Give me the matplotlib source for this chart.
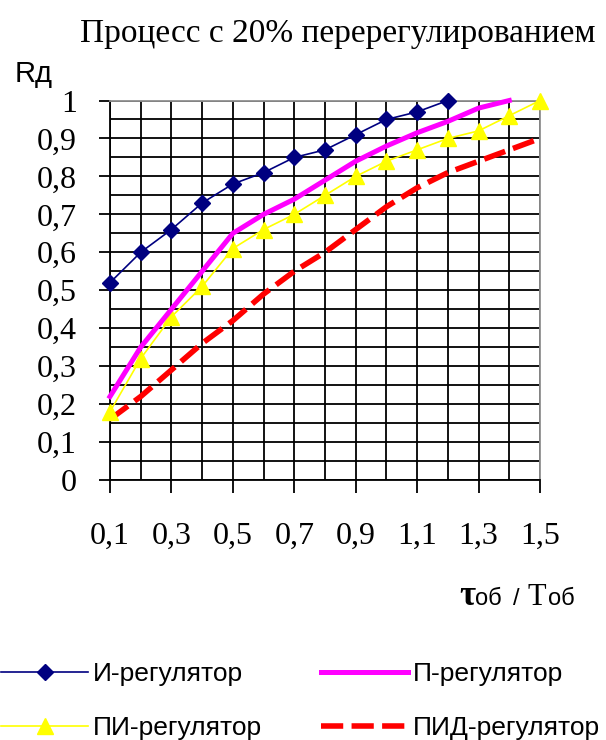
import numpy as np
import matplotlib
matplotlib.use("Agg")
import matplotlib.pyplot as plt
from matplotlib.lines import Line2D
from matplotlib.ticker import MultipleLocator, FixedLocator

plt.rcParams["lines.scale_dashes"] = False

# Relative delay tau/T and the ratio Rd for each controller type
x_i = [0.1, 0.2, 0.3, 0.4, 0.5, 0.6, 0.7, 0.8, 0.9, 1.0, 1.1, 1.2]
r_i = [0.52, 0.60, 0.66, 0.73, 0.78, 0.81, 0.85, 0.87, 0.91, 0.95, 0.97, 1.00]

x_p = [0.1, 0.2, 0.3, 0.4, 0.5, 0.6, 0.7, 0.8, 0.9, 1.0, 1.1, 1.2, 1.3, 1.4]
r_p = [0.22, 0.35, 0.45, 0.55, 0.65, 0.70, 0.74, 0.79, 0.84, 0.88, 0.915, 0.945, 0.98, 1.00]

x_pi = [0.1, 0.2, 0.3, 0.4, 0.5, 0.6, 0.7, 0.8, 0.9, 1.0, 1.1, 1.2, 1.3, 1.4, 1.5]
r_pi = [0.18, 0.32, 0.43, 0.51, 0.61, 0.66, 0.70, 0.75, 0.80, 0.84, 0.87, 0.90, 0.92, 0.96, 1.00]

x_pid = [0.1, 0.2, 0.3, 0.4, 0.5, 0.6, 0.7, 0.8, 0.9, 1.0, 1.1, 1.2, 1.3, 1.4, 1.5]
r_pid = [0.16, 0.22, 0.29, 0.36, 0.42, 0.49, 0.55, 0.60, 0.66, 0.72, 0.77, 0.81, 0.84, 0.87, 0.90]

labels = ["И-регулятор", "П-регулятор", "ПИ-регулятор", "ПИД-регулятор"]
x_ticks = [0.1, 0.3, 0.5, 0.7, 0.9, 1.1, 1.3, 1.5]
y_ticks = [0, 0.1, 0.2, 0.3, 0.4, 0.5, 0.6, 0.7, 0.8, 0.9, 1.0]

def fmt(v):
    s = f"{v:.1f}".replace(".", ",")
    return {"0,0": "0", "1,0": "1"}.get(s, s)

W, H = 606, 740
fig = plt.figure(figsize=(W / 100, H / 100), dpi=100)
ax = fig.add_axes([110 / W, 1 - 480 / H, 430 / W, 379.5 / H])

serif = "Liberation Serif"
sans = "Liberation Sans"

ax.set_xlim(0.1, 1.5)
ax.set_ylim(0, 1)

ax.xaxis.set_major_locator(FixedLocator(x_ticks))
ax.xaxis.set_minor_locator(MultipleLocator(0.1))
ax.yaxis.set_major_locator(FixedLocator(y_ticks))
ax.yaxis.set_minor_locator(MultipleLocator(0.05))
ax.set_xticklabels([fmt(v) for v in x_ticks], family=serif, fontsize=23)
ax.set_yticklabels([fmt(v) for v in y_ticks], family=serif, fontsize=23)
ax.tick_params(axis="x", which="major", length=9, width=1.3, pad=21, direction="out")
ax.tick_params(axis="y", which="major", length=8, width=1.3, pad=16, direction="out")
ax.tick_params(which="minor", length=0)

ax.grid(True, which="both", color="black", linewidth=1.3)
ax.set_axisbelow(True)
for side in ("left", "bottom"):
    ax.spines[side].set_color("black")
    ax.spines[side].set_linewidth(1.3)
for side in ("top", "right"):
    ax.spines[side].set_color("#909090")
    ax.spines[side].set_linewidth(1.3)

ax.plot(x_pid, r_pid, color="#ff0000", linewidth=4.0, dashes=(16, 6),
        solid_capstyle="butt", dash_capstyle="butt", zorder=3, clip_on=False)
ax.plot(x_pi, r_pi, color="#ffff00", linewidth=1.2, marker="^", markersize=11,
        markerfacecolor="#ffff00", markeredgecolor="#ffff00", zorder=4, clip_on=False)
ax.plot(x_p, r_p, color="#ff00ff", linewidth=3.6, zorder=5, clip_on=False)
ax.plot(x_i, r_i, color="#000080", linewidth=1.2, marker="D", markersize=8,
        markerfacecolor="#000080", markeredgecolor="#000080", zorder=6, clip_on=False)

# Title and axis captions
fig.text(338 / W, 1 - 42 / H, "Процесс с 20% перерегулированием", family=serif,
         fontsize=24, ha="center", va="baseline")
fig.text(15 / W, 1 - 82 / H, "Rд", family=sans, fontsize=21, ha="left", va="baseline")

base = 1 - 605 / H
fig.text(459 / W, base, "τ", family=serif, fontsize=25, fontweight="bold", ha="left", va="baseline")
fig.text(475 / W, base, "об", family=sans, fontsize=17, ha="left", va="baseline")
fig.text(513 / W, base, "/", family=sans, fontsize=17, ha="left", va="baseline")
fig.text(527 / W, base, "Т", family=serif, fontsize=22, ha="left", va="baseline")
fig.text(548 / W, base, "об", family=sans, fontsize=17, ha="left", va="baseline")

# Legend: two rows, filled column by column
h_i = Line2D([], [], color="#000080", linewidth=1.2, marker="D", markersize=8)
h_p = Line2D([], [], color="#ff00ff", linewidth=3.6)
h_pi = Line2D([], [], color="#ffff00", linewidth=1.2, marker="^", markersize=11)
h_pid = Line2D([], [], color="#ff0000", linewidth=4.0, dashes=(16, 6))
fig.legend([h_i, h_pi, h_p, h_pid], [labels[0], labels[2], labels[1], labels[3]],
           ncol=2, loc="upper left", bbox_to_anchor=(1 / W, 1 - 662 / H),
           frameon=False, prop={"family": sans, "size": 19}, handlelength=3.3,
           handletextpad=0.2, columnspacing=2.2, labelspacing=1.15,
           borderaxespad=0, borderpad=0, numpoints=1)

fig.savefig("out.png", dpi=100)
